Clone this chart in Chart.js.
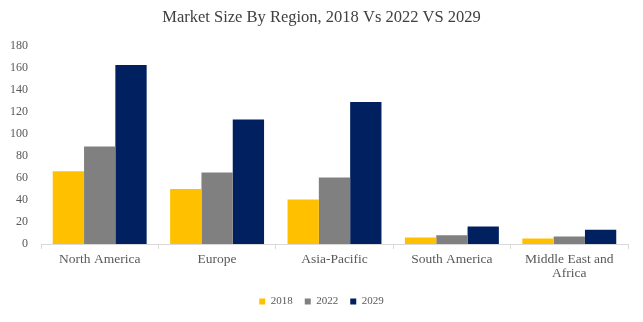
<!DOCTYPE html>
<html>
<head>
<meta charset="utf-8">
<script src="https://cdn.jsdelivr.net/npm/chart.js@4"></script>
<style>
    html, body { margin: 0; padding: 0; background: #fff; }
    #wrap { width: 643px; height: 322px; }
</style>
</head>
<body>
<div id="wrap"><canvas id="chart1"></canvas></div>
<script>
const regions = ['North America', 'Europe', 'Asia-Pacific', 'South America', ['Middle East and', 'Africa']];
const years = ['2018', '2022', '2029'];
const values2018 = [66, 50, 40.5, 6, 5];
const values2022 = [88.5, 65, 60.5, 8, 6.7];
const values2029 = [162.5, 113, 129, 16, 13];
const yearColors = ['#FFC000', '#808080', '#002060'];

const FONT = "'Liberation Serif', 'DejaVu Serif', serif";

// y labels sit partly in the left padding, so widen their clip box
const yLabelRoom = {
    id: 'yLabelRoom',
    afterLayout: chart => { chart.scales.y.left = 0; }
};

new Chart(document.getElementById('chart1'), {
    type: 'bar',
    data: {
        labels: regions,
        datasets: [values2018, values2022, values2029].map((vals, i) => ({
            label: years[i],
            data: vals,
            backgroundColor: yearColors[i],
            borderWidth: 0,
            barPercentage: 1,
            categoryPercentage: 0.8
        }))
    },
    options: {
        responsive: true,
        maintainAspectRatio: false,
        animation: false,
        layout: { padding: { left: 15, right: 15, top: 0, bottom: 5 } },
        plugins: {
            title: {
                display: true,
                text: 'Market Size By Region, 2018 Vs 2022 VS 2029',
                color: '#404040',
                font: { family: FONT, size: 16.5, weight: 'normal' },
                padding: { top: 8, bottom: 18 }
            },
            legend: {
                position: 'bottom',
                labels: {
                    color: '#595959',
                    font: { family: FONT, size: 11 },
                    boxWidth: 6,
                    boxHeight: 6,
                    padding: 12
                }
            },
            tooltip: { enabled: false }
        },
        scales: {
            x: {
                grid: { display: true, drawOnChartArea: false, drawTicks: true, tickLength: 5, color: '#d9d9d9', offset: true },
                border: { color: '#d9d9d9' },
                ticks: { color: '#595959', font: { family: FONT, size: 13.5, lineHeight: 1.0 }, maxRotation: 0, autoSkip: false, padding: 4 }
            },
            y: {
                min: 0,
                max: 180,
                grid: { display: false, drawTicks: false },
                border: { display: false },
                ticks: { stepSize: 20, color: '#595959', font: { family: FONT, size: 12 }, padding: 13 },
                afterFit: scale => { scale.width = 26; }
            }
        }
    },
    plugins: [yLabelRoom]
});
</script>
</body>
</html>
